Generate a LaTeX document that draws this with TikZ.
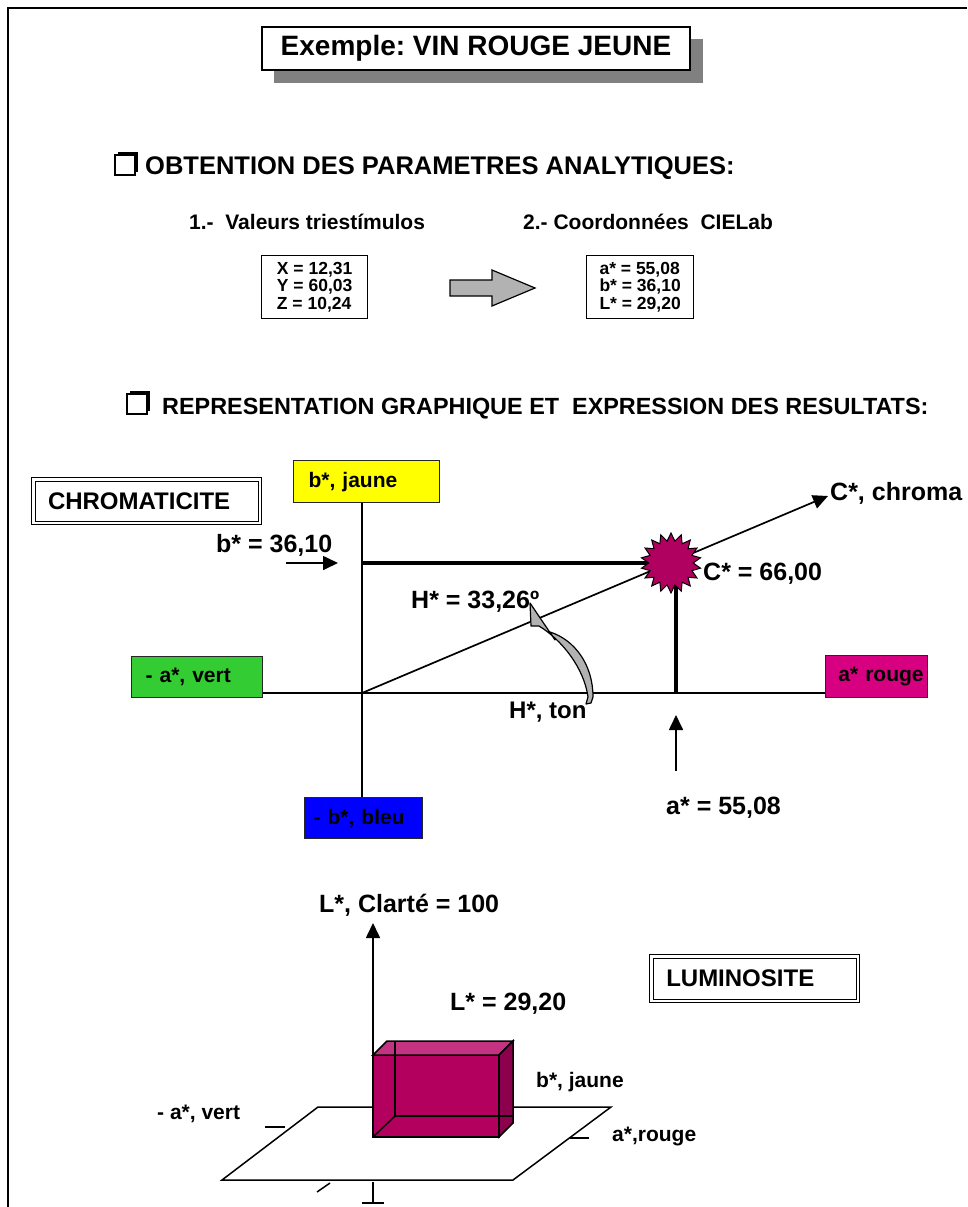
\documentclass[tikz,border=0pt]{standalone}
\usepackage{fontspec}
\setmainfont{Liberation Sans}
\usetikzlibrary{shapes.geometric,arrows.meta}
\definecolor{grayarrow}{RGB}{178,178,178}
\definecolor{shadowgray}{RGB}{128,128,128}
\definecolor{jaune}{RGB}{255,255,0}
\definecolor{vert}{RGB}{51,204,51}
\definecolor{bleu}{RGB}{0,0,255}
\definecolor{rouge}{RGB}{214,0,128}
\definecolor{starred}{RGB}{176,0,96}
\definecolor{cubefront}{RGB}{179,0,95}
\definecolor{cubetop}{RGB}{196,50,130}
\definecolor{cubeside}{RGB}{140,0,78}
\newcommand\F[1]{\fontsize{#1}{#1}\selectfont\bfseries}
\frenchspacing
\begin{document}
\begin{tikzpicture}[x=1pt,y=-1pt,
  lbl/.style={inner sep=0pt, anchor=base west},
  cbox/.style={draw=black!85, line width=1.3pt, inner ysep=0pt, minimum height=41pt, align=left, anchor=north west, font={\F{21}}},
  dbox/.style={draw=black, double, double distance=2.5pt, line width=1pt, inner ysep=0pt, align=left},
  vbox/.style={draw=black, line width=1.3pt, align=left, anchor=north west, inner sep=0pt, minimum height=63pt, font={\fontsize{17.5}{17.5}\selectfont\bfseries}},
  axis/.style={line width=1.7pt},
  heavy/.style={line width=3.5pt},
  arr/.style={-{Triangle[width=14pt,length=15pt]}},
  chk/.pic={\fill (3,-3) rectangle (23,17); \filldraw[fill=white, line width=1.3pt] (0,0) rectangle (20,20);}
]
\useasboundingbox (0,0) rectangle (967,1207);
\draw[line width=2pt] (8,1207) -- (8,8) -- (967,8);

% title
\fill[shadowgray] (274,39) rectangle (703,83);
\node[draw, line width=1.3pt, fill=white, minimum width=428pt, minimum height=43pt, inner sep=0pt, font={\F{28}}] (title) at (476,48.5) {Exemple: VIN ROUGE JEUNE};

% heading 1
\pic at (115,155) {chk};
\node[lbl, font={\F{25.5}}] (h1) at (145,174) {OBTENTION DES PARAMETRES ANALYTIQUES:};
\node[lbl, font={\F{21}}] (s1) at (189,229) {1.-\ \ Valeurs triestímulos};
\node[lbl, font={\F{21}}] (s2) at (523,229) {2.- Coordonnées\ \ CIELab};
\node[vbox, minimum width=106pt] (tri) at (261,255) {X = 12,31\\Y = 60,03\\Z = 10,24};
\node[vbox, minimum width=107pt] (lab) at (586,255) {a* = 55,08\\b* = 36,10\\L* = 29,20};
\filldraw[fill=grayarrow, line width=1.2pt] (450,280) -- (492,280) -- (492,270) -- (535,288) -- (492,306) -- (492,296) -- (450,296) -- cycle;

% heading 2
\pic at (127,394) {chk};
\node[lbl, font={\F{23.4}}] (h2) at (162,414) {REPRESENTATION GRAPHIQUE ET\ \ EXPRESSION DES RESULTATS:};

% chromaticite
\node[dbox, minimum width=226.5pt, minimum height=43.5pt, text width=197pt, inner xsep=14.75pt, font={\F{24}}] (chrom) at (146.5,501) {CHROMATICITE};
\node[cbox, fill=jaune, minimum width=146pt, minimum height=42pt, text width=116pt, inner xsep=15pt] (bj) at (293,460) {b*, jaune};
\node[cbox, fill=vert, minimum width=131pt, text width=103pt, inner xsep=14pt] (av) at (131,656) {- a*, vert};
\node[cbox, fill=rouge, minimum width=102pt, minimum height=42pt, text width=94pt, inner xsep=4pt, align=right] (ar) at (825,655) {a* rouge};
\node[cbox, fill=bleu, minimum width=118pt, text width=100pt, inner xsep=9pt] (bb) at (304,797) {- b*, bleu};

\coordinate (O) at (362,693);
\draw[axis] (O |- bj.south) -- (O |- bb.north);
\draw[axis] (av.east |- O) -- (ar.west |- O);
\coordinate (Ctip) at (828,496);
\draw[axis, arr] (O) -- (Ctip);

\coordinate (Bp) at (362,563);
\coordinate (P) at (671,563);
\coordinate (Pa) at (676,693);
\draw[heavy] (Bp) -- (P);
\draw[heavy] (Pa |- P) -- (Pa);
\node[star, star points=18, star point ratio=1.35, minimum size=60pt, fill=starred, draw, line width=1pt, inner sep=0pt] (st) at (P) {};

\node[lbl, font={\F{25}}] (bval) at (216,552) {b* = 36,10};
\coordinate (bs) at (286,563);
\coordinate (be) at (338,563);
\draw[axis, arr] (bs) -- (be);
\node[lbl, font={\F{25}}] (hval) at (411,608) {H* = 33,26º};
\node[lbl, font={\F{25}}] (cname) at (830,500) {C*, chroma};
\node[lbl, font={\F{25}}] (cval) at (703,580) {C* = 66,00};
\node[lbl, font={\F{24}}] (hton) at (509,718) {H*, ton};
\node[lbl, font={\F{25}}] (aval) at (666,814) {a* = 55,08};
\coordinate (as) at (676,771);
\coordinate (ae) at (676,715);
\draw[axis, arr] (as) -- (ae);

% curved hue arrow
\filldraw[fill=grayarrow, line width=1.2pt, line join=round]
  (530,603) -- (531,626) -- (539,626)
  .. controls (562,640) and (584,668) .. (588,697)
  -- (586,704) -- (591,703) -- (593,697)
  .. controls (593,665) and (575,640) .. (550,632)
  -- (555,640) -- cycle;

% luminosite
\node[lbl, font={\F{25}}] (lname) at (319,912) {L*, Clarté = 100};
\coordinate (Lb) at (373,1055);
\coordinate (Lt) at (373,923);
\draw[axis, arr] (Lb) -- (Lt);
\node[lbl, font={\F{25}}] (lval) at (450,1010) {L* = 29,20};
\node[dbox, minimum width=206.5pt, minimum height=44.5pt, text width=176.5pt, inner xsep=15pt, font={\F{24}}] (lum) at (754.5,978.5) {LUMINOSITE};

\filldraw[fill=white, line width=1.5pt] (222,1180) -- (513,1180) -- (611,1107) -- (318,1107) -- cycle;
\draw[line width=1.5pt] (265,1127) -- (285,1127);
\draw[line width=1.5pt] (317,1192) -- (330,1183);
\draw[line width=1.5pt] (570,1138) -- (589,1138);
\draw[line width=1.5pt] (373,1182) -- (373,1203);
\draw[line width=1.5pt] (362,1203) -- (384,1203);

% cuboid
\filldraw[fill=cubefront, line width=1.5pt] (373,1055) rectangle (499,1137);
\filldraw[fill=cubetop, line width=1.5pt] (373,1055) -- (387,1041) -- (513,1041) -- (499,1055) -- cycle;
\filldraw[fill=cubeside, line width=1.5pt] (499,1055) -- (513,1041) -- (513,1123) -- (499,1137) -- cycle;
\draw[line width=1.5pt] (395,1041) -- (395,1116) -- (513,1116);
\draw[line width=1.5pt] (373,1137) -- (395,1116);

\node[lbl, font={\F{21}}] (lav) at (157,1119) {- a*, vert};
\node[lbl, font={\F{21}}] (lbj) at (536,1087) {b*, jaune};
\node[lbl, font={\F{21}}] (lar) at (612,1141) {a*,rouge};
\end{tikzpicture}
\end{document}
